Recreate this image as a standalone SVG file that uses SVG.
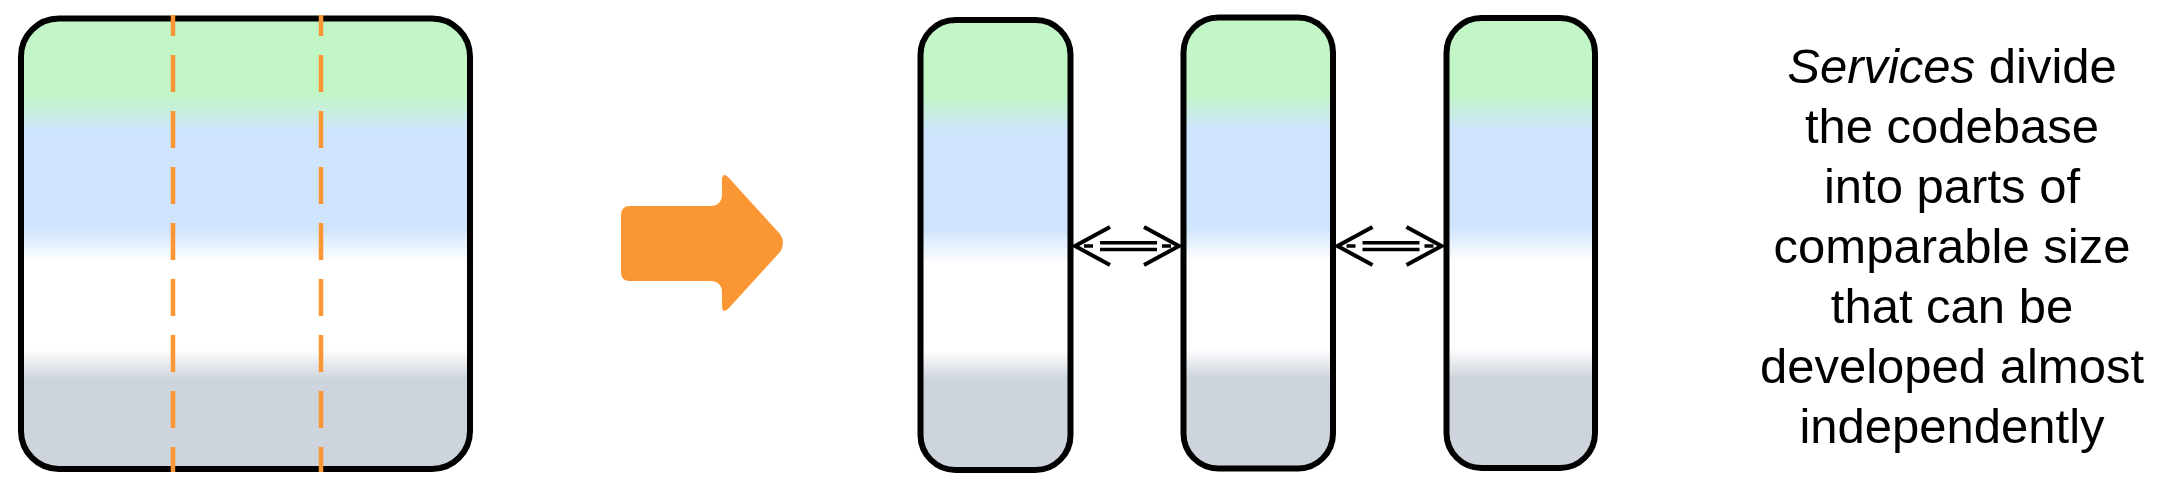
<svg xmlns="http://www.w3.org/2000/svg" width="2166" height="489" viewBox="0 0 2166 489">
<defs>
<linearGradient id="bands" x1="0" y1="0" x2="0" y2="1">
<stop offset="0" stop-color="#c2f6c7"/>
<stop offset="0.17" stop-color="#c2f6c7"/>
<stop offset="0.25" stop-color="#cfe4fd"/>
<stop offset="0.465" stop-color="#cfe4fd"/>
<stop offset="0.54" stop-color="#ffffff"/>
<stop offset="0.735" stop-color="#ffffff"/>
<stop offset="0.8" stop-color="#cdd4dc"/>
<stop offset="1" stop-color="#cdd4dc"/>
</linearGradient>
</defs>
<style>
.box{fill:url(#bands);stroke:#000;stroke-width:6}
.cut{stroke:#fb9634;stroke-width:4.5;stroke-dasharray:37 19;stroke-dashoffset:16;fill:none}
.ln{stroke:#000;stroke-width:3.5;fill:none}
.hd{stroke:#000;stroke-width:4;fill:none;stroke-linejoin:miter}
.txt{font-family:"Liberation Sans",Arial,sans-serif;font-size:49px;fill:#000;text-anchor:middle}
</style>
<g id="monolith">
<rect class="box" x="21" y="18.5" width="449" height="450.5" rx="38" ry="38"/>
<line class="cut" x1="173" y1="15" x2="173" y2="472"/>
<line class="cut" x1="321" y1="15" x2="321" y2="472"/>
</g>
<g id="transform-arrow">
<path d="M630,206 L710,206 Q722,206 722,194 L722,181 Q722,171 729,178 L780,234 Q786,243 780,252 L729,308 Q722,315 722,305 L722,293 Q722,281 710,281 L630,281 Q621,281 621,272 L621,215 Q621,206 630,206 Z" fill="#fb9634"/>
</g>
<g id="service-1">
<rect class="box" x="920.5" y="20" width="150" height="450" rx="35" ry="35"/>
</g>
<g id="service-2">
<rect class="box" x="1183.5" y="17.5" width="149.5" height="451" rx="35" ry="35"/>
</g>
<g id="service-3">
<rect class="box" x="1446.5" y="18" width="148.5" height="450" rx="35" ry="35"/>
</g>
<g id="connectors">
<g id="link-1-2">
<line class="ln" x1="1100" y1="242.8" x2="1157" y2="242.8"/>
<line class="ln" x1="1100" y1="249.4" x2="1157" y2="249.4"/>
<line class="ln" x1="1084" y1="246" x2="1093" y2="246" stroke-width="3"/>
<line class="ln" x1="1162" y1="246" x2="1171" y2="246" stroke-width="3"/>
<polyline class="hd" points="1110,227 1075,246 1110,265"/>
<polyline class="hd" points="1144,227 1179,246 1144,265"/>
</g>
<g id="link-2-3" transform="translate(262.5,0)">
<line class="ln" x1="1100" y1="242.8" x2="1157" y2="242.8"/>
<line class="ln" x1="1100" y1="249.4" x2="1157" y2="249.4"/>
<line class="ln" x1="1084" y1="246" x2="1093" y2="246" stroke-width="3"/>
<line class="ln" x1="1162" y1="246" x2="1171" y2="246" stroke-width="3"/>
<polyline class="hd" points="1110,227 1075,246 1110,265"/>
<polyline class="hd" points="1144,227 1179,246 1144,265"/>
</g>
</g>
<g id="caption">
<text class="txt" x="1952" y="83"><tspan font-style="italic">Services</tspan> divide</text>
<text class="txt" x="1952" y="143">the codebase</text>
<text class="txt" x="1952" y="203">into parts of</text>
<text class="txt" x="1952" y="263">comparable size</text>
<text class="txt" x="1952" y="323">that can be</text>
<text class="txt" x="1952" y="383">developed almost</text>
<text class="txt" x="1952" y="443">independently</text>
</g>
</svg>
